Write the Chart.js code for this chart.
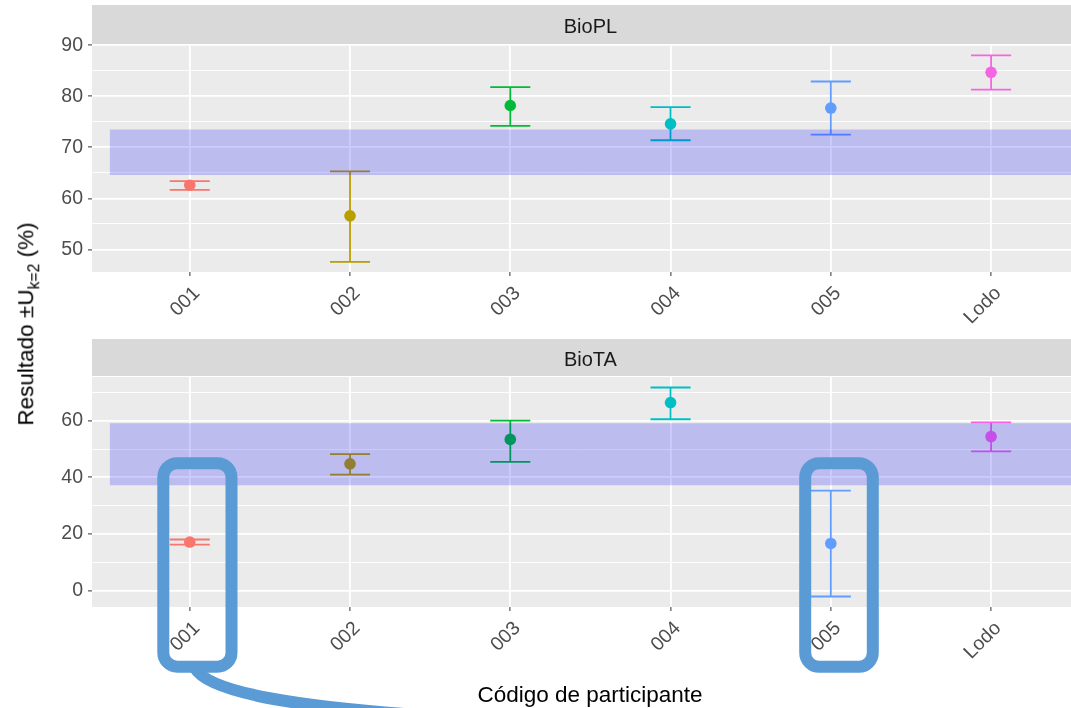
<!DOCTYPE html>
<html>
<head>
<meta charset="utf-8">
<script src="https://cdn.jsdelivr.net/npm/chart.js@4/dist/chart.umd.min.js"></script>
<style>
  html, body { margin: 0; padding: 0; background: #ffffff; overflow: hidden; }
  #wrap { position: relative; width: 1071px; height: 708px; overflow: hidden; }
  canvas { position: absolute; left: 0; }
  #cPL { top: 0; }
  #cTA { top: 335px; }
  .ytitle {
    position: absolute; left: 28px; top: 324px;
    transform: translate(-50%, -50%) rotate(-90deg);
    font: 22.5px "Liberation Sans", Arial, sans-serif; color: #000; white-space: nowrap;
  }
  .ytitle sub { font-size: 0.7em; vertical-align: -0.35em; }
  .xtitle {
    position: absolute; left: 590px; top: 695px;
    transform: translate(-50%, -50%);
    font: 22.5px "Liberation Sans", Arial, sans-serif; color: #000; white-space: nowrap;
  }
  svg.marks { position: absolute; left: 0; top: 0; pointer-events: none; }
</style>
</head>
<body>
<div id="wrap">
  <canvas id="cPL" width="1077" height="335"></canvas>
  <canvas id="cTA" width="1077" height="373"></canvas>
  <div class="ytitle">Resultado ±U<sub>k=2</sub> (%)</div>
  <div class="xtitle">Código de participante</div>
  <svg class="marks" width="1071" height="708">
    <rect x="163.3" y="463.2" width="68.2" height="203.5" rx="14" ry="14" fill="none" stroke="#5B9BD5" stroke-width="12"/>
    <rect x="805.2" y="463.2" width="67.6" height="203.6" rx="14" ry="14" fill="none" stroke="#5B9BD5" stroke-width="12"/>
    <path d="M195 668 Q215 705 470 718" fill="none" stroke="#5B9BD5" stroke-width="12"/>
  </svg>
</div>
<script>
// Participant codes and their colours
const participants = ['001', '002', '003', '004', '005', 'Lodo'];
const colors = ['#F8766D', '#B79F00', '#00BA38', '#00BFC4', '#619CFF', '#F564E3'];

// BioPL: result and expanded-uncertainty interval (k=2)
const bioPLResult = [62.6, 56.6, 78.2, 74.6, 77.7, 84.7];
const bioPLLower  = [61.7, 47.6, 74.2, 71.4, 72.5, 81.3];
const bioPLUpper  = [63.4, 65.3, 81.8, 77.9, 82.9, 88.0];
const bioPLBand   = [64.6, 73.5];
const bioPLMajorTicks = [50, 60, 70, 80, 90];
const bioPLMinorTicks = [55, 65, 75, 85];

// BioTA: result and expanded-uncertainty interval (k=2)
const bioTAResult = [17.2, 44.8, 53.4, 66.4, 16.7, 54.4];
const bioTALower  = [16.3, 41.0, 45.5, 60.5, -2.0, 49.2];
const bioTAUpper  = [18.1, 48.2, 60.0, 71.7, 35.3, 59.4];
const bioTABand   = [37.2, 59.1];
const bioTAMajorTicks = [0, 20, 40, 60];
const bioTAMinorTicks = [10, 30, 50, 70];

const FONT = '"Liberation Sans", Arial, sans-serif';
const CAP_HALF = 0.125;

// Grey panel background and facet strip
const facetPlugin = {
  id: 'facet',
  beforeDraw(chart, args, opts) {
    const { ctx, chartArea: a } = chart;
    ctx.save();
    ctx.fillStyle = '#EBEBEB';
    ctx.fillRect(a.left, a.top, a.right - a.left, a.bottom - a.top);
    const sTop = a.top - 1 - opts.stripHeight;
    ctx.fillStyle = '#D9D9D9';
    ctx.fillRect(a.left, sTop, a.right - a.left, opts.stripHeight);
    ctx.fillStyle = '#1A1A1A';
    ctx.font = '20px ' + FONT;
    ctx.textAlign = 'center';
    ctx.textBaseline = 'middle';
    const cx = chart.scales.x.getPixelForValue((participants.length - 1) / 2);
    ctx.fillText(opts.label, cx, sTop + opts.stripHeight / 2 + 2.5);
    ctx.restore();
  }
};

function errorBar(i, lo, hi) {
  return [
    { x: i - CAP_HALF, y: hi }, { x: i + CAP_HALF, y: hi }, { x: i, y: null },
    { x: i, y: hi }, { x: i, y: lo }, { x: i, y: null },
    { x: i - CAP_HALF, y: lo }, { x: i + CAP_HALF, y: lo }
  ];
}

function makePanel(canvasId, cfg) {
  const datasets = [];
  // uncertainty band, drawn over everything
  datasets.push({
    data: [{ x: -0.5, y: cfg.band[1] }, { x: participants.length - 0.5, y: cfg.band[1] }],
    showLine: true, fill: { value: cfg.band[0] },
    backgroundColor: 'rgba(0,0,255,0.2)', borderColor: 'rgba(0,0,0,0)', borderWidth: 0,
    pointRadius: 0, order: 0
  });
  participants.forEach((p, i) => {
    datasets.push({
      data: [{ x: i, y: cfg.result[i] }],
      showLine: false, pointRadius: 5.8, pointBackgroundColor: colors[i],
      pointBorderWidth: 0, pointBorderColor: colors[i], order: 1
    });
    datasets.push({
      data: errorBar(i, cfg.lower[i], cfg.upper[i]),
      showLine: true, spanGaps: false, borderColor: colors[i], borderWidth: 1.8,
      pointRadius: 0, fill: false, order: 2
    });
  });
  const major = cfg.major, minor = cfg.minor;
  return new Chart(document.getElementById(canvasId), {
    type: 'line',
    data: { datasets },
    plugins: [facetPlugin],
    options: {
      responsive: false, animation: false, events: [],
      layout: { padding: { top: cfg.padTop, left: 0, right: 0, bottom: 0 } },
      plugins: {
        legend: { display: false }, tooltip: { enabled: false },
        facet: { label: cfg.label, stripHeight: cfg.stripHeight }
      },
      scales: {
        x: {
          type: 'linear', min: -0.61, max: 5.5,
          afterBuildTicks: s => { s.ticks = participants.map((_, i) => ({ value: i })); },
          afterFit: s => { s.height = cfg.xHeight; },
          ticks: {
            autoSkip: false, minRotation: 45, maxRotation: 45, padding: 6, labelOffset: 7,
            color: '#4D4D4D', font: { family: FONT, size: 19.5 },
            callback: v => participants[v]
          },
          grid: { color: '#FFFFFF', lineWidth: 1.8, tickLength: 4, tickColor: '#333333', tickWidth: 1 },
          border: { display: false }
        },
        y: {
          min: cfg.yMin, max: cfg.yMax,
          afterBuildTicks: s => {
            s.ticks = [...major, ...minor].sort((a, b) => a - b).map(v => ({ value: v }));
          },
          afterFit: s => { s.width = 92; },
          ticks: {
            padding: 5, color: '#4D4D4D', font: { family: FONT, size: 19.5 },
            callback: v => major.includes(v) ? String(v) : ''
          },
          grid: {
            color: '#FFFFFF',
            lineWidth: c => major.includes(c.tick.value) ? 1.8 : 0.9,
            tickLength: 4,
            tickColor: c => major.includes(c.tick.value) ? '#333333' : 'rgba(0,0,0,0)',
            tickWidth: 1
          },
          border: { display: false }
        }
      }
    }
  });
}

makePanel('cPL', {
  label: 'BioPL', result: bioPLResult, lower: bioPLLower, upper: bioPLUpper, band: bioPLBand,
  major: bioPLMajorTicks, minor: bioPLMinorTicks, yMin: 45.6, yMax: 90.05,
  padTop: 45, stripHeight: 39, xHeight: 63
});
makePanel('cTA', {
  label: 'BioTA', result: bioTAResult, lower: bioTALower, upper: bioTAUpper, band: bioTABand,
  major: bioTAMajorTicks, minor: bioTAMinorTicks, yMin: -5.7, yMax: 75.4,
  padTop: 42, stripHeight: 37, xHeight: 101
});
</script>
</body>
</html>
